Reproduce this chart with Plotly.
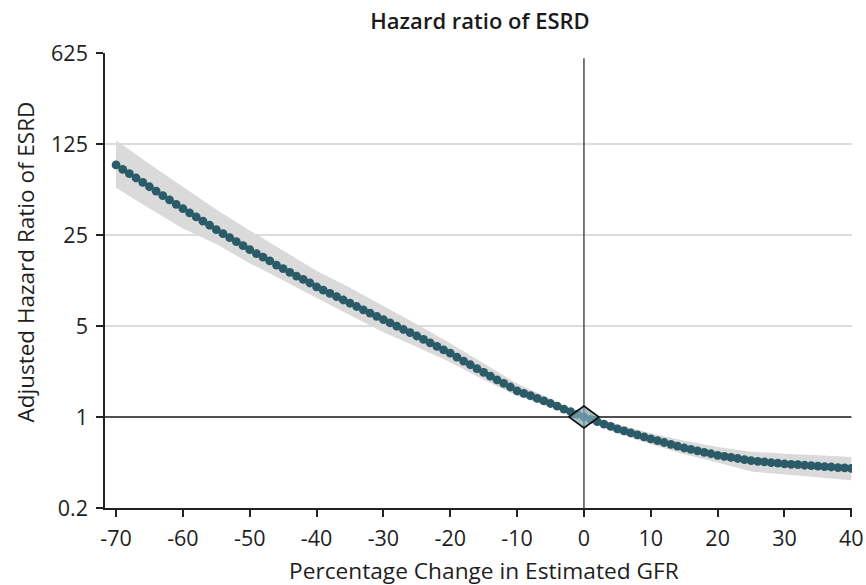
import plotly.graph_objects as go

# ---- data ----
gfr_change = list(range(-70, 41))
hazard_ratio = [
    86.3, 79.9, 74.0, 68.5, 63.4, 58.7, 54.3, 50.2, 46.5, 43.0,   # -70..-61
    39.8, 37.0, 34.4, 31.9, 29.7, 27.5, 25.6, 23.9, 22.2, 20.7,   # -60..-51
    19.3, 18.0, 16.9, 15.8, 14.7, 13.8, 12.9, 12.1, 11.4, 10.7,   # -50..-41
    10.0, 9.43, 8.90, 8.40, 7.92, 7.48, 7.06, 6.66, 6.28, 5.93,   # -40..-31
    5.60, 5.28, 4.98, 4.70, 4.44, 4.19, 3.94, 3.71, 3.49, 3.28,   # -30..-21
    3.09, 2.88, 2.69, 2.52, 2.35, 2.20, 2.06, 1.93, 1.81, 1.70,   # -20..-11
    1.59, 1.52, 1.46, 1.39, 1.33, 1.27, 1.21, 1.15, 1.10, 1.05,   # -10..-1
    1.00, 0.959, 0.920, 0.882, 0.846, 0.811, 0.783, 0.756, 0.729, 0.704,  # 0..9
    0.679, 0.658, 0.637, 0.617, 0.597, 0.578, 0.564, 0.549, 0.535, 0.522,  # 10..19
    0.508, 0.499, 0.489, 0.480, 0.471, 0.462, 0.457, 0.452, 0.447, 0.442,  # 20..29
    0.437, 0.433, 0.430, 0.426, 0.423, 0.419, 0.416, 0.413, 0.409, 0.406,  # 30..39
    0.403,                                                                  # 40
]

band_x = [-70, -65, -60, -55, -50, -45, -40, -35, -30, -25, -20, -15, -10, -5,
          0, 5, 10, 15, 20, 25, 30, 35, 40]
band_upper = [133.3, 87.7, 58.7, 39.2, 27.1, 19.0, 13.3, 9.83, 7.12, 5.16, 3.68,
              2.58, 1.81, 1.38, 1.016, 0.879, 0.749, 0.658, 0.588, 0.542, 0.521,
              0.509, 0.493]
band_lower = [57.7, 39.9, 28.0, 21.3, 15.2, 11.2, 8.23, 6.06, 4.47, 3.45, 2.63,
              1.93, 1.45, 1.19, 0.984, 0.749, 0.617, 0.517, 0.447, 0.381, 0.360,
              0.343, 0.327]

reference_x = 0
reference_hr = 1

x_ticks = [-70, -60, -50, -40, -30, -20, -10, 0, 10, 20, 30, 40]
x_tick_labels = ["-70", "-60", "-50", "-40", "-30", "-20", "-10", "0", "10", "20", "30", "40"]
y_ticks = [0.2, 1, 5, 25, 125, 625]
y_tick_labels = ["0.2", "1", "5", "25", "125", "625"]

X_MIN, X_MAX = -71.65, 40.1
Y_MIN, Y_MAX = 0.2, 625
VLINE_TOP = 570

FONT = "Open Sans"
DOT = "#2b5b69"
TXT = "#1e1e1e"

fig = go.Figure()

# confidence band
fig.add_trace(go.Scatter(
    x=band_x + band_x[::-1],
    y=band_upper + band_lower[::-1],
    fill="toself", fillcolor="#dadada", line=dict(width=0),
    mode="lines", hoverinfo="skip", showlegend=False,
))

# reference lines at HR = 1 and 0 % change
fig.add_trace(go.Scatter(x=[X_MIN, 40], y=[reference_hr, reference_hr], mode="lines",
                         line=dict(color="#222222", width=1.3),
                         hoverinfo="skip", showlegend=False))
fig.add_trace(go.Scatter(x=[reference_x, reference_x], y=[Y_MIN, VLINE_TOP], mode="lines",
                         line=dict(color="#333333", width=1.3),
                         hoverinfo="skip", showlegend=False))

# point estimates
fig.add_trace(go.Scatter(
    x=gfr_change, y=hazard_ratio, mode="markers",
    marker=dict(size=8.8, color=DOT, line=dict(width=0)),
    showlegend=False,
))

# reference diamond (pixel-sized, anchored at the reference point)
fig.add_shape(
    type="path", xref="x", yref="y",
    xsizemode="pixel", ysizemode="pixel",
    xanchor=reference_x, yanchor=reference_hr,
    path="M -15,0 L 0,11 L 15,0 L 0,-11 Z",
    fillcolor="rgba(128,168,180,0.72)",
    line=dict(color="#111111", width=1.6), layer="above",
)

fig.update_layout(
    width=866, height=585,
    margin=dict(l=105, r=14, t=53, b=77, autoexpand=False),
    paper_bgcolor="white", plot_bgcolor="white",
    font=dict(family=FONT, color=TXT),
    title=dict(text="Hazard ratio of ESRD", x=480 / 866, xanchor="center",
               y=1 - 21 / 585, yanchor="middle", yref="container", automargin=False,
               font=dict(family=FONT, size=22, weight=600, color="#1a1a1a")),
    showlegend=False,
)

fig.update_xaxes(
    range=[X_MIN, X_MAX], tickvals=x_ticks, ticktext=x_tick_labels,
    showline=True, linecolor="#222222", linewidth=1.5,
    ticks="outside", ticklen=7, tickwidth=1.5, tickcolor="#222222",
    showgrid=False, zeroline=False, automargin=False, ticklabelstandoff=3,
    tickfont=dict(family=FONT, size=21.5, color=TXT),
)
fig.update_yaxes(
    type="log", range=[-0.69897, 2.79588], tickvals=y_ticks, ticktext=y_tick_labels,
    showline=True, linecolor="#222222", linewidth=1.5,
    ticks="outside", ticklen=7, tickwidth=1.5, tickcolor="#222222",
    showgrid=True, gridcolor="#dcdcdc", gridwidth=2, zeroline=False,
    automargin=False, ticklabelstandoff=4,
    tickfont=dict(family=FONT, size=21.5, color=TXT),
)

fig.add_annotation(text="Percentage Change in Estimated GFR", xref="paper", yref="paper",
                   x=0.5067, y=-0.137, xanchor="center", yanchor="middle", showarrow=False,
                   font=dict(family=FONT, size=22.7, color=TXT))
fig.add_annotation(text="Adjusted Hazard Ratio of ESRD", xref="paper", yref="paper",
                   x=(25 - 105) / 747, y=(508 - 262.5) / 455, xanchor="center",
                   yanchor="middle", showarrow=False,
                   textangle=-90, font=dict(family=FONT, size=22.5, color=TXT))

fig.write_html(
    "out.html",
    config={"displayModeBar": False},
    post_script="document.body.style.margin='0';document.body.style.overflow='hidden';",
)
